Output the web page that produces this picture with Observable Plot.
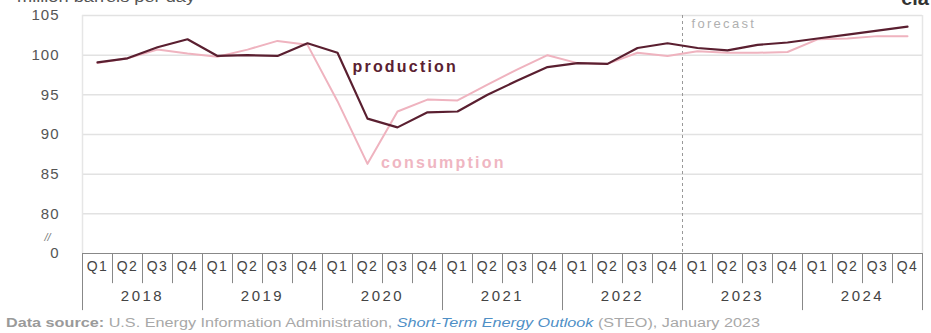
<!DOCTYPE html>
<html>
<head>
<meta charset="utf-8">
<script src="https://cdn.jsdelivr.net/npm/d3@7"></script>
<script src="https://cdn.jsdelivr.net/npm/@observablehq/plot@0.6"></script>
<style>
  html, body { margin: 0; padding: 0; background: #fff; }
  #wrap { position: relative; width: 931px; height: 333px; overflow: hidden; font-family: "Liberation Sans", Arial, sans-serif; }
  #units { position: absolute; left: 17px; top: -11px; font-size: 14px; color: #555; transform: scaleX(1.3); transform-origin: left top; white-space: nowrap; }
  #logo { position: absolute; right: 2px; top: -13px; font-size: 20px; font-weight: bold; color: #333; }
  #chart { position: absolute; left: 0; top: 0; }
  #caption { position: absolute; left: 6px; top: 316px; font-size: 12px; color: #a8a8a8; white-space: nowrap; transform: scaleX(1.35); transform-origin: left top; }
  #caption b { color: #9a9a9a; }
  #caption i { color: #4f8fc6; }
</style>
</head>
<body>
<div id="wrap">
  <div id="chart"></div>
  <div id="units">million barrels per day</div>
  <div id="logo">eia</div>
  <div id="caption"><b>Data source:</b> U.S. Energy Information Administration, <i>Short-Term Energy Outlook</i> (STEO), January 2023</div>
</div>
<script>
const years = ["2018", "2019", "2020", "2021", "2022", "2023", "2024"];
const quarterNames = ["Q1", "Q2", "Q3", "Q4"];
const production = [
  99.1, 99.6, 101.0, 102.0,
  99.9, 100.0, 99.9, 101.5,
  100.3, 92.0, 90.9, 92.8,
  92.9, 95.0, 96.8, 98.5,
  99.0, 98.9, 100.9, 101.5,
  100.9, 100.6, 101.3, 101.6,
  102.1, 102.6, 103.1, 103.6
];
const consumption = [
  99.0, 99.6, 100.7, 100.2,
  99.8, 100.7, 101.8, 101.3,
  94.2, 86.3, 92.9, 94.4,
  94.3, 96.3, 98.2, 100.0,
  99.0, 98.9, 100.3, 99.9,
  100.5, 100.3, 100.3, 100.4,
  102.0, 102.1, 102.4, 102.4
];
const yTicks = [75, 80, 85, 90, 95, 100, 105];
const forecastStart = 20; // index of Q1 2023
const labels = [
  {text: "production", x: 8.5, y: 98.5, color: "#5a2131"},
  {text: "consumption", x: 9.45, y: 86.4, color: "#efb6c2"}
];

const quarters = [];
years.forEach((yr, yi) => quarterNames.forEach((q, qi) => quarters.push({i: yi * 4 + qi, q, year: yr})));
const prodData = quarters.map(d => ({i: d.i, v: production[d.i]}));
const consData = quarters.map(d => ({i: d.i, v: consumption[d.i]}));
const boundaries = d3.range(quarters.length + 1).map(i => ({x: i - 0.5, year: i % 4 === 0}));
const yearCenters = years.map((yr, yi) => ({x: yi * 4 + 1.5, year: yr}));

const chart = Plot.plot({
  width: 931,
  height: 318,
  marginLeft: 82,
  marginRight: 9,
  marginTop: 15,
  marginBottom: 65,
  style: {fontFamily: "'Liberation Sans', Arial, sans-serif", background: "transparent"},
  x: {domain: [-0.5, quarters.length - 0.5], axis: null},
  y: {domain: [75, 105], axis: null},
  marks: [
    Plot.ruleY(yTicks.filter(t => t > 75), {stroke: "#e2e2e2", strokeWidth: 1.5}),
    Plot.ruleX([-0.5, quarters.length - 0.5], {stroke: "#e6e6e6", strokeWidth: 1.5}),
    Plot.axisY({ticks: yTicks, tickSize: 0, tickPadding: 23, fontSize: 15, fill: "#555",
      tickFormat: d => d === 75 ? "0" : d}),
    Plot.text(["//"], {frameAnchor: "left", y: 77, dx: -38, text: d => d, fontSize: 11, fill: "#777", fontStyle: "italic"}),
    Plot.ruleX([forecastStart - 0.5], {stroke: "#999", strokeDasharray: "3,3", strokeWidth: 1}),
    Plot.text(["forecast"], {x: forecastStart - 0.5, y: 104, dx: 9, text: d => d, textAnchor: "start", fontSize: 13, fill: "#b0b0b0"}),
    Plot.line(consData, {x: "i", y: "v", stroke: "#efb3bf", strokeWidth: 2}),
    Plot.line(prodData, {x: "i", y: "v", stroke: "#5a1f30", strokeWidth: 2.2}),
    Plot.text(labels, {x: "x", y: "y", text: "text", fill: "color", textAnchor: "start", fontSize: 16, fontWeight: "bold"}),
    Plot.ruleY([75], {stroke: "#888", strokeWidth: 1.2}),
    Plot.ruleX(boundaries, {x: "x", y1: 75, y2: d => d.year ? 67.8 : 71.2, stroke: "#888", strokeWidth: 1}),
    Plot.text(quarters, {x: "i", frameAnchor: "bottom", dy: 17, text: "q", fontSize: 14, fill: "#444"}),
    Plot.text(yearCenters, {x: "x", frameAnchor: "bottom", dy: 47, text: "year", fontSize: 15, fill: "#444"})
  ]
});
d3.select(chart).selectAll("text").each(function () {
  const t = this.textContent.trim();
  let s = 0;
  if (/^Q\d$/.test(t)) s = 1.5;
  else if (/^20\d\d$/.test(t)) s = 2.5;
  else if (t === "production" || t === "consumption") s = 2.2;
  else if (t === "forecast") s = 2.3;
  else if (/^\d+$/.test(t)) s = 1;
  if (s) this.setAttribute("letter-spacing", s);
});
document.getElementById("chart").appendChild(chart);
</script>
</body>
</html>
